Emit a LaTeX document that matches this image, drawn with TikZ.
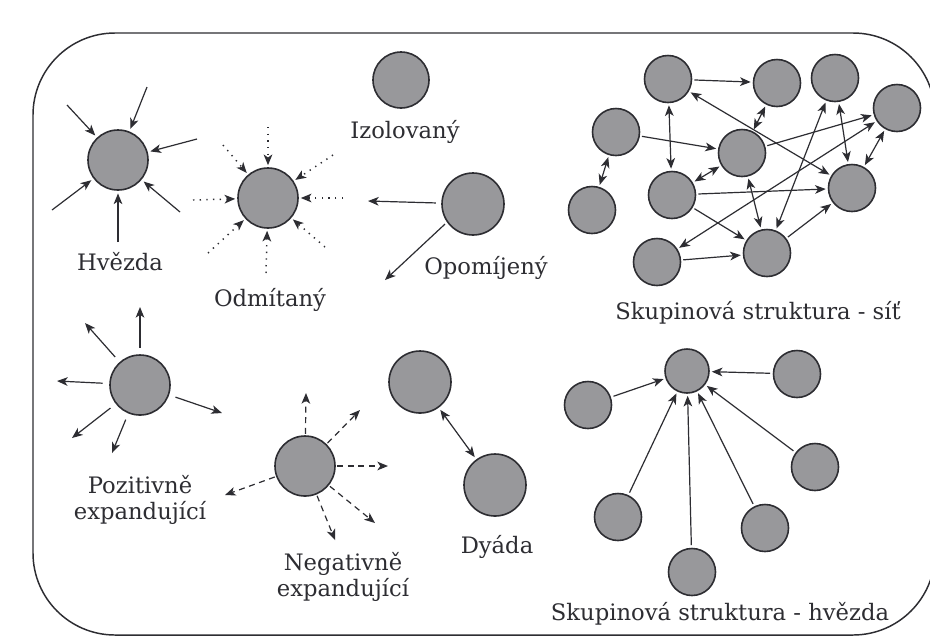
\documentclass[tikz,border=0pt]{standalone}
\usepackage{fontspec}
\setmainfont{DejaVu Serif}
\usetikzlibrary{arrows.meta}
\definecolor{ink}{RGB}{45,45,50}
\definecolor{ballfill}{RGB}{152,152,155}
\begin{document}
\begin{tikzpicture}[x=0.75pt,y=-0.75pt,
  ball/.style={circle, draw=ink, line width=1.2pt, fill=ballfill, inner sep=0pt, minimum size=#1*1.5pt},
  arr/.style={-{Stealth[length=8pt,width=6.5pt,inset=2.2pt]}, line width=0.9pt, draw=ink},
  darr/.style={{Stealth[length=8pt,width=6.5pt,inset=2.2pt]}-{Stealth[length=8pt,width=6.5pt,inset=2.2pt]}, line width=0.9pt, draw=ink},
  dotarr/.style={arr, dash pattern=on 1pt off 4pt, line width=1.1pt},
  dasharr/.style={arr, dash pattern=on 4.5pt off 3.5pt},
  lab/.style={font=\fontsize{17}{19.5}\selectfont, text=ink, inner sep=0pt, align=center}
]
\useasboundingbox (0,0) rectangle (930,637);
\clip (0,0) rectangle (930,637);
\fill[white] (0,0) rectangle (930,637);
\draw[line width=1.1pt, ink, rounded corners=61.5pt] (33,33) rectangle (935,635);

% Hvezda
\node[ball=30] (hv) at (118,160) {};
\coordinate (hv1) at (67,105);
\coordinate (hv2) at (147,87);
\coordinate (hv3) at (197,139);
\coordinate (hv4) at (180,212);
\coordinate (hv5) at (118,242);
\coordinate (hv6) at (52,210);
\foreach \c in {hv1,hv2,hv3,hv4,hv5,hv6} \draw[arr, shorten >=2pt] (\c) -- (hv);
\node[lab] (hvl) at (120,262) {Hvězda};

% Izolovany
\node[ball=28] (iz) at (401,80) {};
\node[lab] (izl) at (405,132) {Izolovaný};

% Odmitany
\node[ball=30] (od) at (268,198) {};
\coordinate (od1) at (268,127);
\coordinate (od2) at (223,145);
\coordinate (od3) at (333,155);
\coordinate (od4) at (343,198);
\coordinate (od5) at (193,200);
\coordinate (od6) at (208,253);
\coordinate (od7) at (266,273);
\coordinate (od8) at (325,247);
\foreach \c in {od1,od2,od3,od4,od5,od6,od7,od8} \draw[dotarr, shorten >=1.5pt] (\c) -- (od);
\node[lab] (odl) at (270,300) {Odmítaný};

% Opomijeny
\node[ball=31] (op) at (473,204) {};
\coordinate (op1) at (368,201);
\coordinate (op2) at (385,280);
\draw[arr, shorten <=4pt] (op) -- (op1);
\draw[arr, shorten <=2pt] (op.215) -- (op2);
\node[lab] (opl) at (486,268) {Opomíjený};

% Pozitivne expandujici
\node[ball=30] (po) at (140,385) {};
\coordinate (po1) at (140,307);
\coordinate (po2) at (85,323);
\coordinate (po3) at (57,381);
\coordinate (po4) at (222,413);
\coordinate (po5) at (72,438);
\coordinate (po6) at (112,453);
\foreach \c in {po1,po2,po3,po4,po5,po6} \draw[arr, shorten <=5pt] (po) -- (\c);
\node[lab] (pol) at (140,500) {Pozitivně\\expandující};

% Negativne expandujici
\node[ball=30] (ne) at (305,466) {};
\coordinate (ne1) at (306,393);
\coordinate (ne2) at (360,410);
\coordinate (ne3) at (388,466);
\coordinate (ne4) at (225,495);
\coordinate (ne5) at (375,523);
\coordinate (ne6) at (335,540);
\foreach \c in {ne1,ne2,ne3,ne4,ne5,ne6} \draw[dasharr, shorten <=1pt] (ne) -- (\c);
\node[lab] (nel) at (343,577) {Negativně\\expandující};

% Dyada
\node[ball=31] (dya) at (420,382) {};
\node[ball=31] (dyb) at (495,485) {};
\draw[darr, shorten <=2pt, shorten >=2pt] (dya) -- (dyb);
\node[lab] (dyl) at (497,547) {Dyáda};

% Sit
\node[ball=23.5] (n1) at (668,79) {};
\node[ball=23.5] (n2) at (777,83) {};
\node[ball=23.5] (n3) at (835,78) {};
\node[ball=23.5] (n4) at (897,108) {};
\node[ball=23.5] (n5) at (616,132) {};
\node[ball=23.5] (n6) at (742,153) {};
\node[ball=23.5] (n7) at (672,195) {};
\node[ball=23.5] (n8) at (852,188) {};
\node[ball=23.5] (n9) at (592,210) {};
\node[ball=23.5] (n10) at (657,262) {};
\node[ball=23.5] (n11) at (767,253) {};
\begin{scope}[shorten <=1.5pt, shorten >=1.5pt]
\draw[arr] (n1) -- (n2);
\draw[darr] (n1) -- (n7);
\draw[darr] (n1) -- (n8);
\draw[darr] (n2) -- (n6);
\draw[arr] (n5) -- (n6);
\draw[darr] (n5) -- (n9);
\draw[darr] (n6) -- (n7);
\draw[arr] (n6) -- (n4);
\draw[darr] (n6) -- (n11);
\draw[arr] (n7) -- (n8);
\draw[arr] (n7) -- (n11);
\draw[darr] (n10) -- (n4);
\draw[arr] (n10) -- (n11);
\draw[darr] (n11) -- (n3);
\draw[darr] (n3) -- (n8);
\draw[darr] (n4) -- (n8);
\draw[arr] (n11) -- (n8);
\end{scope}
\node[lab] (sitl) at (758,313) {Skupinová struktura - síť};

% Skupinova hvezda
\node[ball=22] (hub) at (687,371) {};
\node[ball=23.5] (s1) at (588,405) {};
\node[ball=23.5] (s2) at (797,374) {};
\node[ball=23.5] (s3) at (815,467) {};
\node[ball=23.5] (s4) at (765,528) {};
\node[ball=23.5] (s5) at (692,572) {};
\node[ball=23.5] (s6) at (618,517) {};
\foreach \c in {s1,s2,s3,s4,s5,s6} \draw[arr, shorten <=2pt, shorten >=1.5pt] (\c) -- (hub);
\node[lab] (hvsl) at (720,614) {Skupinová struktura - hvězda};
\end{tikzpicture}
\end{document}
